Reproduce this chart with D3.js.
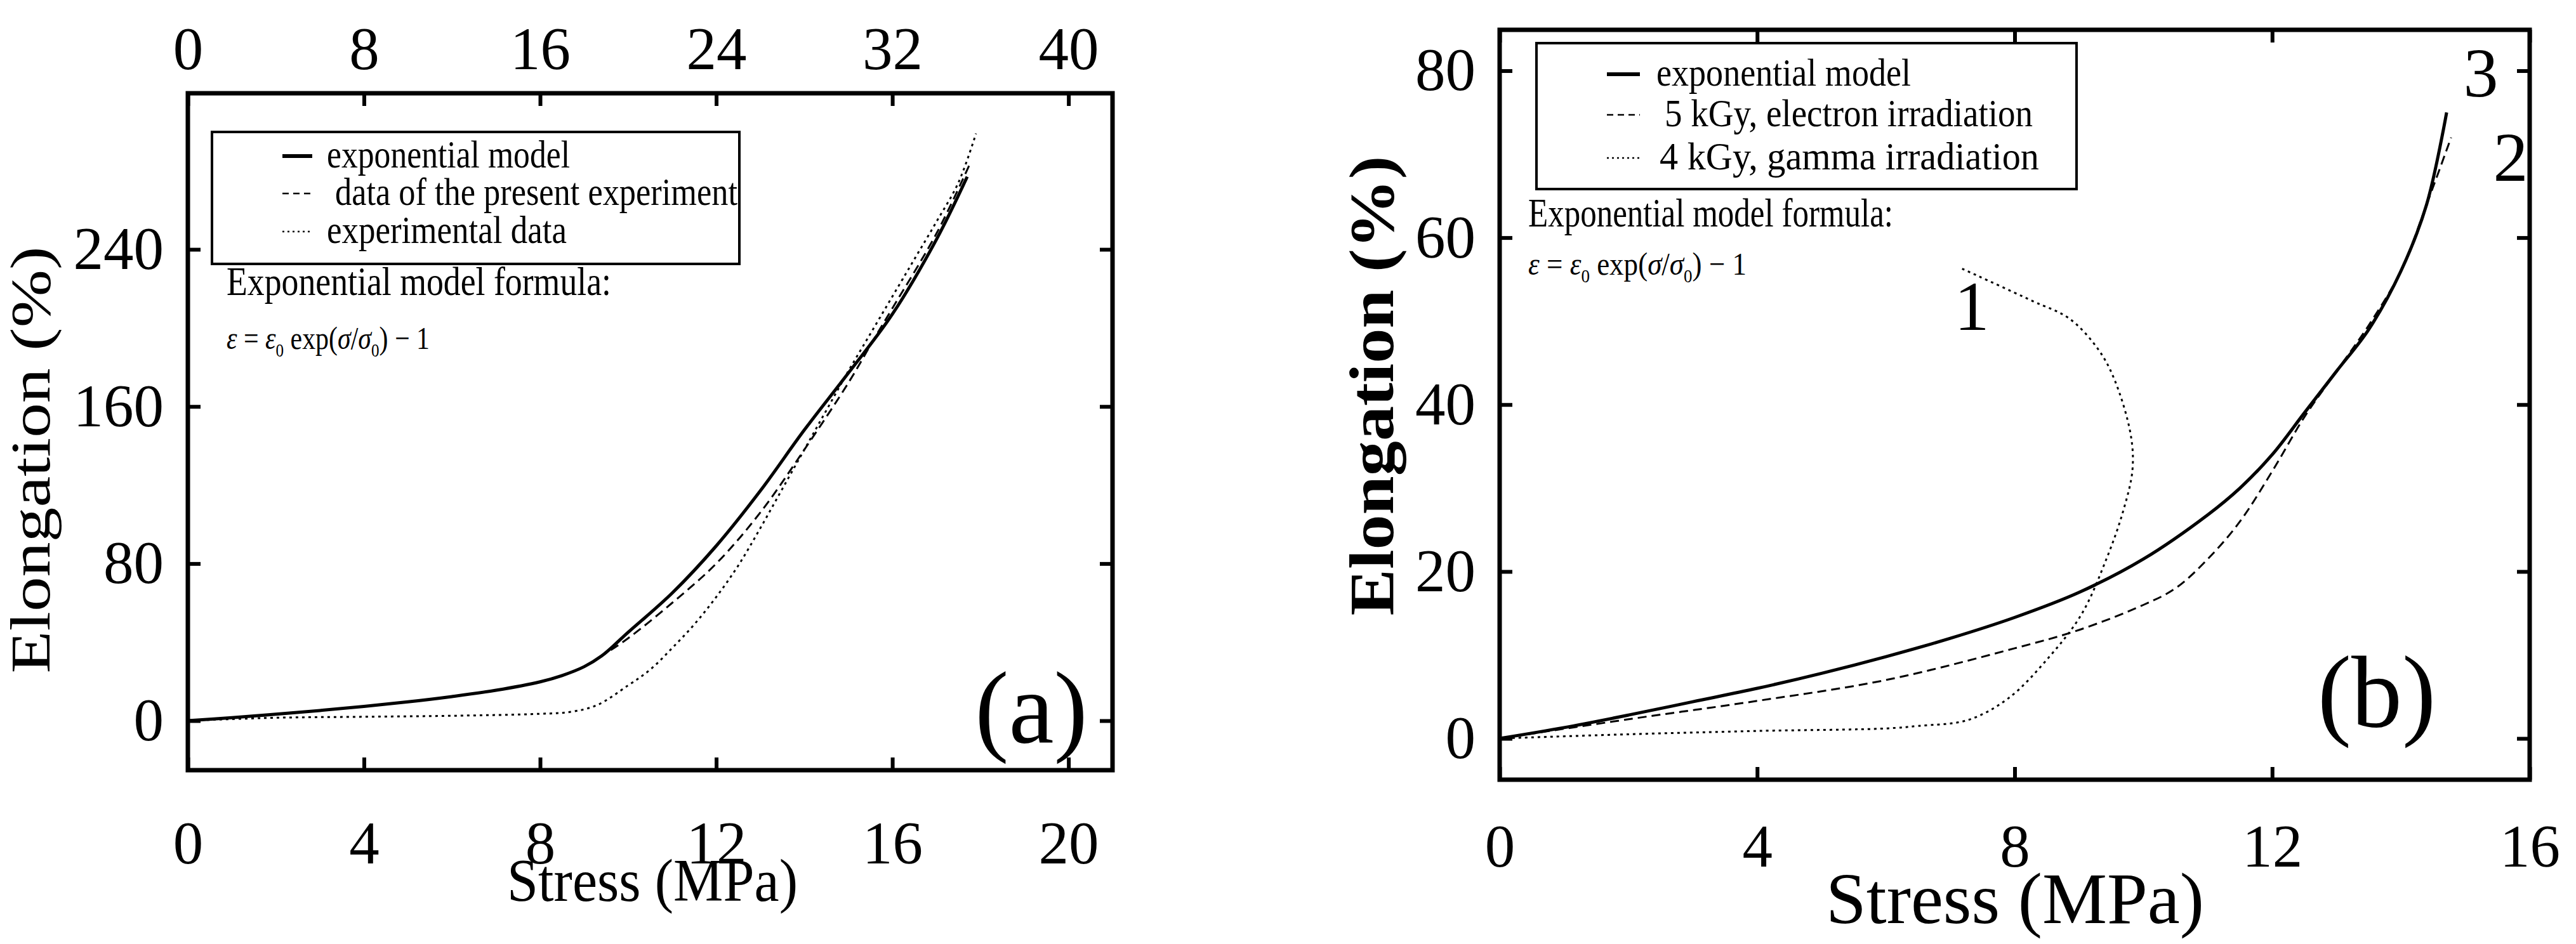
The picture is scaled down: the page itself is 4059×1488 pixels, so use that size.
<!DOCTYPE html>
<html><head><meta charset="utf-8">
<script src="https://cdn.jsdelivr.net/npm/d3@7"></script>
<style>body{margin:0;background:#fff}text{font-family:"Liberation Serif","Times New Roman",serif;fill:#000}</style>
</head><body><svg id="c" width="4059" height="1488"></svg>
<script>
// ---- data: panel (a) ----
const aModel = [[0,0],[1,1.5],[2,3.3],[3,5.2],[4,7.3],[5,9.6],[6,12.3],[7,15.5],[8,19.8],[8.5,23],[9,27.5],[9.4,33],[10,45],[11,65],[12,89],[13,117],[14,148],[15,177],[16,207],[17,245],[17.7,277]];
const aPresent = [[0,0],[2,3.3],[4,7.3],[6,12.3],[8,19.8],[9,27.5],[9.4,33],[10,42],[11,60],[12,80],[13,106],[14,138],[15,172],[15.6,195],[16,210],[17,248],[17.75,283]];
const aExp = [[0,0],[2,1.5],[4,2],[6,2.5],[8,3.5],[8.7,4.5],[9.3,8],[10,18],[10.5,26],[11,37],[11.5,49],[12,63],[12.5,79],[13,98],[13.5,118],[14,138],[14.5,158],[15,178],[15.5,197],[16,216],[16.5,235],[17,254],[17.5,274],[17.9,299]];
const aXTicks = [0,4,8,12,16,20];
const aTopTicks = [0,8,16,24,32,40];
const aYTicks = [0,80,160,240];
const aLegend = ["exponential model"," data of the present experiment","experimental data"];
// ---- data: panel (b) ----
const bModel = [[0,0],[1,1.3],[2,2.8],[3,4.4],[4,6.0],[5,7.8],[6,9.8],[7,12.0],[8,14.5],[9,17.5],[10,21.5],[11,26.8],[11.5,30],[12,34],[12.5,39],[13,44],[13.5,49],[14,56],[14.4,64],[14.71,75]];
const bElectron = [[0,0],[2,2.3],[4,4.5],[6,7],[8,10.8],[9,13],[10,16],[10.5,18],[11,21.5],[11.5,26],[12,32],[12.5,38.5],[13,44],[13.5,49.5],[14,56],[14.4,64],[14.78,72]];
const bGamma = [[0,0],[2,0.5],[4,0.9],[6,1.2],[6.5,1.5],[7.27,2.2],[7.9,4.8],[8.54,9.8],[9.04,14.9],[9.42,21.4],[9.68,27.1],[9.83,32.2],[9.8,36.5],[9.55,43],[9.3,46.6],[8.85,50.3],[8.28,52.4],[7.15,56.4]];
const bXTicks = [0,4,8,12,16];
const bYTicks = [0,20,40,60,80];
const bLegend = ["exponential model"," 5 kGy, electron irradiation","4 kGy, gamma irradiation"];

const svg = d3.select("#c");
const styles = [{w:5,d:null},{w:3,d:"14,8"},{w:3,d:"4,6"}];

function panel(o){
  const x = d3.scaleLinear().domain(o.xd).range([o.l,o.r]);
  const y = d3.scaleLinear().domain(o.yd).range([o.b,o.t]);
  const g = svg.append("g");
  const tl = 20;
  g.append("g").attr("transform",`translate(0,${o.b})`).call(d3.axisBottom(x).tickValues(o.xt).tickSize(-tl).tickPadding(o.bp).tickFormat(d3.format("d")));
  g.append("g").attr("transform",`translate(0,${o.t})`).call(d3.axisTop(x).tickValues(o.xt).tickSize(-tl).tickFormat(""));
  g.append("g").attr("transform",`translate(${o.l},0)`).call(d3.axisLeft(y).tickValues(o.yt).tickSize(-tl).tickPadding(38).tickFormat(d3.format("d")));
  g.append("g").attr("transform",`translate(${o.r},0)`).call(d3.axisRight(y).tickValues(o.yt).tickSize(-tl).tickFormat(""));
  g.selectAll(".domain").remove();
  g.selectAll(".tick line").attr("stroke","#000").attr("stroke-width",6);
  g.selectAll(".tick text").attr("font-size",95).attr("font-family","Liberation Serif");
  if(o.top){
    const xt = d3.scaleLinear().domain([0,40]).range([x(0),x(20)]);
    g.append("g").attr("transform",`translate(0,${o.t})`).call(d3.axisTop(xt).tickValues(o.top).tickSize(0).tickPadding(38).tickFormat(d3.format("d")))
      .call(s=>{s.select(".domain").remove();s.selectAll("text").attr("font-size",95).attr("font-family","Liberation Serif");});
  }
  g.append("rect").attr("x",o.l).attr("y",o.t).attr("width",o.r-o.l).attr("height",o.b-o.t).attr("fill","none").attr("stroke","#000").attr("stroke-width",7);
  const line = d3.line().x(d=>x(d[0])).y(d=>y(d[1])).curve(d3.curveCatmullRom);
  o.series.forEach((s,i)=>g.append("path").attr("d",line(s)).attr("fill","none").attr("stroke","#000").attr("stroke-width",styles[i].w).attr("stroke-dasharray",styles[i].d));
  // legend
  const L=o.leg;
  g.append("rect").attr("x",L.x0).attr("y",L.y0).attr("width",L.x1-L.x0).attr("height",L.y1-L.y0).attr("fill","none").attr("stroke","#000").attr("stroke-width",4);
  o.legText.forEach((t,i)=>{
    g.append("line").attr("x1",L.sx0).attr("x2",L.sx1).attr("y1",L.rows[i]).attr("y2",L.rows[i]).attr("stroke","#000").attr("stroke-width",i==0?6:2.5).attr("stroke-dasharray",i==0?null:(i==1?"10,7":"3,5"));
    g.append("text").attr("x",L.tx[i]).attr("y",L.rows[i]+18).attr("font-size",62).attr("textLength",L.tw[i]).attr("lengthAdjust","spacingAndGlyphs").text(t.trim());
  });
  g.append("text").attr("x",o.f.x).attr("y",o.f.y1+20).attr("font-size",64).attr("textLength",o.f.w1).attr("lengthAdjust","spacingAndGlyphs").text("Exponential model formula:");
  const ft = g.append("text").attr("x",o.f.x).attr("y",o.f.y2+14).attr("font-size",50).attr("textLength",o.f.w2).attr("lengthAdjust","spacingAndGlyphs");
  ft.append("tspan").attr("font-style","italic").text("ε");
  ft.append("tspan").text(" = ");
  ft.append("tspan").attr("font-style","italic").text("ε");
  ft.append("tspan").attr("font-size",30).attr("dy",12).text("0");
  ft.append("tspan").attr("dy",-12).text(" exp(");
  ft.append("tspan").attr("font-style","italic").text("σ");
  ft.append("tspan").text("/");
  ft.append("tspan").attr("font-style","italic").text("σ");
  ft.append("tspan").attr("font-size",30).attr("dy",12).text("0");
  ft.append("tspan").attr("dy",-12).text(") − 1");
  // titles
  g.append("text").attr("transform",`translate(${o.yl.x},${o.yl.y}) rotate(-90)`).attr("text-anchor","middle").attr("font-size",o.yl.fs).attr("font-weight",o.yl.bold?"bold":"normal").attr("textLength",o.yl.w).attr("lengthAdjust","spacingAndGlyphs").text("Elongation (%)");
  g.append("text").attr("x",o.xl.x).attr("y",o.xl.y).attr("text-anchor","middle").attr("font-size",o.xl.fs).attr("textLength",o.xl.w).attr("lengthAdjust","spacingAndGlyphs").text("Stress (MPa)");
  o.notes.forEach(n=>g.append("text").attr("x",n.x).attr("y",n.y).attr("text-anchor","middle").attr("font-size",n.fs).text(n.t));
}

panel({xd:[0,21],yd:[-25.2,319.5],l:296,r:1753,t:147,b:1214,bp:80,xt:aXTicks,yt:aYTicks,top:aTopTicks,
  series:[aModel,aPresent,aExp],legText:aLegend,
  leg:{x0:334,y0:208,x1:1165,y1:416,sx0:445,sx1:492,rows:[246,305,365],tx:[515,528,515],tw:[383,634,378]},
  f:{x:357,y1:445,w1:606,y2:536,w2:320},
  yl:{x:78,y:725,fs:88,w:673,bold:false},xl:{x:1028,y:1420,fs:95,w:458},
  notes:[{t:"(a)",x:1625,y:1170,fs:160}]});

panel({xd:[0,16],yd:[-4.94,84.9],l:2363,r:3986,t:47,b:1229,bp:70,xt:bXTicks,yt:bYTicks,
  series:[bModel,bElectron,bGamma],legText:bLegend,
  leg:{x0:2421,y0:68,x1:3272,y1:298,sx0:2532,sx1:2584,rows:[117,181,249],tx:[2610,2623,2615],tw:[401,580,598]},
  f:{x:2408,y1:337,w1:575,y2:419,w2:344},
  yl:{x:2195,y:608,fs:100,w:725,bold:true},xl:{x:3175,y:1455,fs:115,w:596},
  notes:[{t:"(b)",x:3745,y:1145,fs:160},{t:"1",x:3107,y:520,fs:110},{t:"3",x:3909,y:152,fs:110},{t:"2",x:3956,y:285,fs:110}]});
</script></body></html>
